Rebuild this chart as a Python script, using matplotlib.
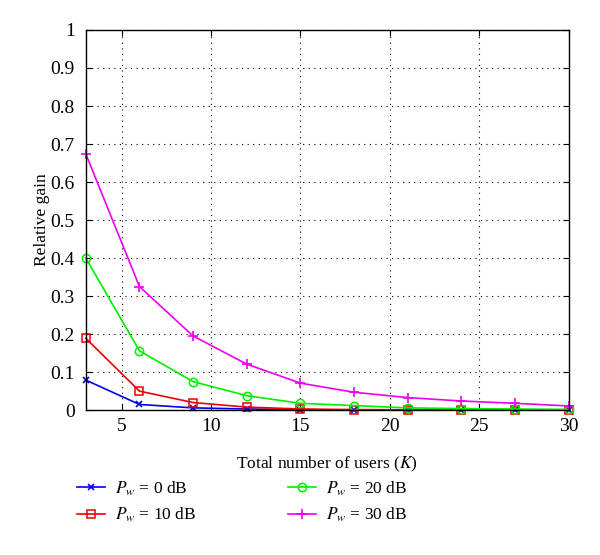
import numpy as np
import matplotlib
matplotlib.use('Agg')
import matplotlib.pyplot as plt

plt.rcParams['font.family'] = ['Liberation Serif', 'DejaVu Serif']
plt.rcParams['mathtext.fontset'] = 'stix'

# number of users K
users = [3, 6, 9, 12, 15, 18, 21, 24, 27, 30]
gain_0db = [0.079, 0.015, 0.006, 0.003, 0.001, 0.0005, 0.0003, 0.0002, 0.0001, 0.0001]
gain_10db = [0.189, 0.050, 0.020, 0.008, 0.003, 0.0015, 0.001, 0.0007, 0.0005, 0.0003]
gain_20db = [0.400, 0.156, 0.075, 0.038, 0.018, 0.012, 0.006, 0.004, 0.003, 0.002]
gain_30db = [0.674, 0.325, 0.195, 0.121, 0.071, 0.047, 0.033, 0.024, 0.018, 0.011]
labels = [r'$P_w$ = 0 dB', r'$P_w$ = 10 dB', r'$P_w$ = 20 dB', r'$P_w$ = 30 dB']
x_ticks = [5, 10, 15, 20, 25, 30]
y_ticks = [0, 0.1, 0.2, 0.3, 0.4, 0.5, 0.6, 0.7, 0.8, 0.9, 1.0]
y_ticklabels = ['0', '0.1', '0.2', '0.3', '0.4', '0.5', '0.6', '0.7', '0.8', '0.9', '1']

fig = plt.figure(figsize=(6, 5.55), dpi=100)
ax = fig.add_axes([0.143, 0.261, 0.805, 0.685])

styles = [
    dict(color='#0000ee', marker='x', ms=4.5, mew=1.2),
    dict(color='#ee0000', marker='s', ms=5.5, mfc='none', mew=1.1),
    dict(color='#00ee00', marker='o', ms=6, mfc='none', mew=1.1),
    dict(color='#ee00ee', marker='+', ms=7, mew=1.2),
]
series = [gain_0db, gain_10db, gain_20db, gain_30db]
lines = []
for vals, lab, st in zip(series, labels, styles):
    ln, = ax.plot(users, vals, lw=1.2, label=lab, clip_on=False, **st)
    lines.append(ln)

ax.set_xlim(3, 30)
ax.set_ylim(0, 1)
ax.set_xticks(x_ticks)
ax.set_yticks(y_ticks)
ax.set_yticklabels(y_ticklabels)
ax.tick_params(direction='in', top=True, right=True, labelsize=14, length=4)
ax.tick_params(axis='y', pad=8)
ax.tick_params(axis='x', pad=6)
ax.grid(True, color='black', ls=(0, (1, 4)), lw=0.8)
for sp in ax.spines.values():
    sp.set_linewidth(1.0)

ax.set_xlabel('Total number of users ($K$)', fontsize=12.5, labelpad=14)
ax.set_ylabel('Relative gain', fontsize=12.5, labelpad=0)

fig.legend(handles=lines, loc='upper left', bbox_to_anchor=(0.128, 0.136),
           ncol=2, frameon=False, fontsize=12.5, columnspacing=5.3,
           handlelength=1.6, handletextpad=0.6, labelspacing=0.45,
           borderpad=0, borderaxespad=0)

fig.savefig('out.png', dpi=100)
